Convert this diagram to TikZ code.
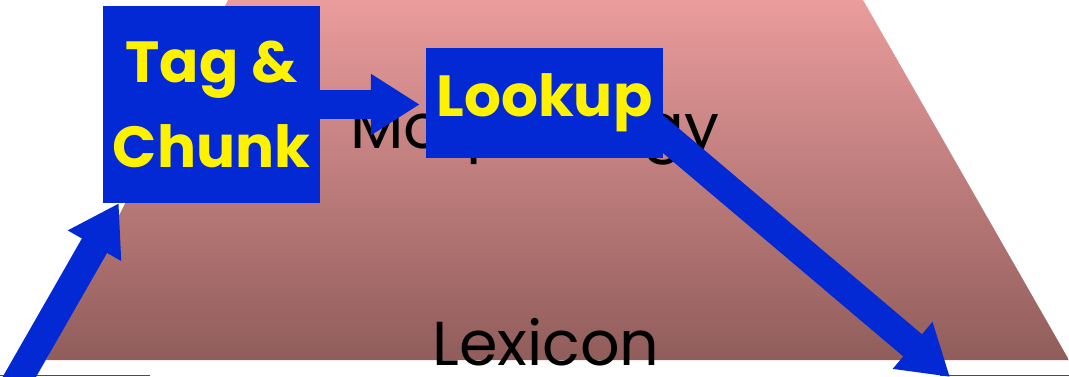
\documentclass[tikz,border=0pt]{standalone}
\usepackage{fontspec}
\setmainfont{Poppins}
\usetikzlibrary{arrows.meta}

\definecolor{boxblue}{RGB}{2,41,212}
\definecolor{layertop}{RGB}{234,156,156}
\definecolor{layerbottom}{RGB}{144,93,91}

\pgfdeclarelayer{bg}
\pgfdeclarelayer{flow}
\pgfsetlayers{bg,flow,main}

\begin{document}
\begin{tikzpicture}[x=1pt, y=-1pt,
    stage/.style={fill=boxblue, text=yellow, inner sep=0pt, align=center,
        font=\fontsize{58}{85}\selectfont\bfseries},
    layer/.style={font=\fontsize{62}{70}\selectfont, anchor=base},
    flow/.style={boxblue, line width=29pt, -{Triangle[length=49pt, width=58pt]}}]
    \useasboundingbox (0,0) rectangle (1069,376);
    \clip (0,0) rectangle (1069,376);

    % Layers of the pyramid
    \begin{pgfonlayer}{bg}
        \shade[top color=layertop, bottom color=layerbottom]
            (228,0) -- (863,0) -- (1069,360) -- (46,360) -- cycle;
        \draw[black!70, line width=1pt] (0,375) -- (150,375);
        \draw[black!70, line width=1pt] (940,375) -- (1069,375);
        \node[layer] (morph) at (535,148) {Morphology};
        \node[layer] (lex) at (546,365) {Lexicon};
    \end{pgfonlayer}

    % Processing steps
    \node[stage, minimum width=217pt, minimum height=197pt] (tag) at (211.5,104.5) {Tag \&\\Chunk};
    \node[stage, minimum width=237pt, minimum height=110pt] (lookup) at (544.5,103) {Lookup};

    % Flow between steps
    \coordinate (src) at (9,395);
    \coordinate (out) at (950,377);
    \begin{pgfonlayer}{flow}
        \draw[flow] (src) -- ([xshift=16]tag.south west);
        \draw[flow, shorten >=6pt] (tag.east) -- (tag.east -| lookup.west);
        \draw[flow] ([shift={(96,12)}]lookup.center) -- (out);
    \end{pgfonlayer}
\end{tikzpicture}
\end{document}
